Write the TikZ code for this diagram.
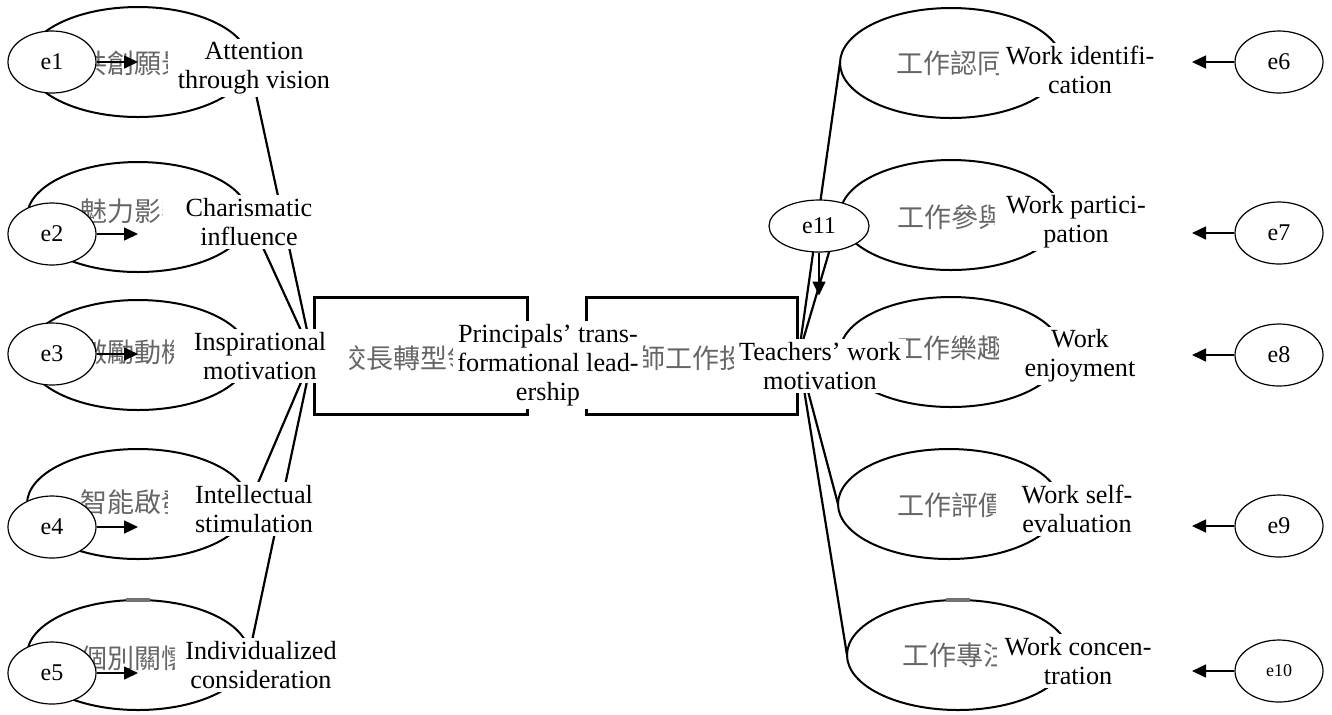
\documentclass[tikz,border=0pt]{standalone}
\usepackage{fontspec}
\setmainfont{Liberation Serif}
\newfontfamily\cjk{Noto Sans CJK TC}
\usetikzlibrary{shapes.geometric,arrows.meta}

\tikzset{
    latent/.style={ellipse,draw,line width=1pt,minimum width=111pt,
        minimum height=55pt,inner sep=0pt,outer sep=0pt},
    errvar/.style={ellipse,draw,fill=white,line width=0.6pt,minimum width=44pt,
        minimum height=31pt,inner sep=0pt,font=\fontsize{12}{12}\selectfont},
    factor/.style={rectangle,draw,line width=1.5pt,minimum height=58.5pt,inner sep=0pt},
    load/.style={line width=1.1pt},
    arr/.style={line width=0.8pt,-{Triangle[length=7pt,width=6.5pt]}},
    zh/.style={anchor=west,inner sep=0pt,text=black!60,
        font=\cjk\fontsize{13.5}{13.5}\selectfont},
    en/.style={fill=white,align=center,inner xsep=2pt,inner ysep=1.5pt,
        minimum width=86pt,font=\fontsize{13.1}{14.5}\selectfont}
}

\begin{document}
\begin{tikzpicture}[x=0.5pt,y=-0.5pt]
    \useasboundingbox (0,0) rectangle (1332,714);
    % latent variables
    \foreach \i/\y in {1/62, 2/217, 3/355, 4/504, 5/655}
        \node[latent] (L\i) at (138,\y) {};
    \foreach \i/\x/\y in {1/951/63, 2/951/215, 3/951/352, 4/949/504, 5/958/655}
        \node[latent] (R\i) at (\x,\y) {};
    % scan marks on the two bottom ellipses
    \draw[black!55,line width=2pt] ([xshift=-6pt]L5.north) -- ([xshift=6pt]L5.north);
    \draw[black!55,line width=2pt] ([xshift=-6pt]R5.north) -- ([xshift=6pt]R5.north);
    \node[factor,minimum width=106.5pt] (lbox) at (420.5,355.5) {};
    \node[factor,minimum width=105.5pt] (rbox) at (691.5,355.5) {};
    \foreach \i in {1,...,5} {
        \draw[load] (lbox.west) -- (L\i.east);
        \draw[load] (rbox.east) -- (R\i.west);
    }
    % chinese labels
    \foreach \i/\y/\t in {1/63/共創願景, 2/211/魅力影響, 3/352/激勵動機,
        4/502/智能啟發, 5/658/個別關懷}
        \node[zh] (zl\i) at (80,\y) {\t};
    \foreach \i/\x/\y/\t in {1/896/63/工作認同, 2/897/217/工作參與,
        3/896/348/工作樂趣, 4/897/505/工作評價, 5/902/655/工作專注}
        \node[zh] (zr\i) at (\x,\y) {\t};
    \begin{scope}
        \clip (349,290) rectangle (527,420);
        \node[zh] (zlbox) at (339,358) {校長轉型領};
    \end{scope}
    \node[zh] (zrbox) at (638,358) {師工作投};
    % error terms
    \foreach \i/\y in {1/62, 2/234, 3/354, 4/527, 5/673} {
        \node[errvar] (e\i) at (52,\y) {e\i};
        \draw[arr] (e\i.east) -- (e\i.east -| L\i.center);
    }
    \coordinate (rtip) at (1192,0);
    \foreach \i/\y in {6/62, 7/233, 8/355, 9/526} {
        \node[errvar] (e\i) at (1279,\y) {e\i};
        \draw[arr] (e\i.west) -- (e\i.west -| rtip);
    }
    \node[errvar,font=\fontsize{9}{9}\selectfont] (e10) at (1279,671) {e10};
    \draw[arr] (e10.west) -- (e10.west -| rtip);
    \node[errvar,minimum width=50pt,minimum height=26pt] (e11) at (819,226) {e11};
    \draw[arr] (e11.south) -- (e11.south |- rbox.north);
    % english labels
    \node[en] (a1) at (254,68) {Attention\\through vision};
    \node[en] (a2) at (249,222) {Charismatic\\influence};
    \node[en] (a3) at (260,356) {Inspirational\\motivation};
    \node[en] (a4) at (254,509) {Intellectual\\stimulation};
    \node[en] (a5) at (261,665) {Individualized\\consideration};
    \node[en,minimum width=94pt] (ap) at (548,365) {Principals’ trans-\\formational lead-\\ership};
    \node[en] (at) at (820,366) {Teachers’ work\\motivation};
    \node[en,minimum width=81pt] (b1) at (1080,70) {Work identifi-\\cation};
    \node[en,minimum width=81pt] (b2) at (1076,222) {Work partici-\\pation};
    \node[en,minimum width=81pt] (b3) at (1080,356) {Work\\enjoyment};
    \node[en,minimum width=81pt] (b4) at (1077,509) {Work self-\\evaluation};
    \node[en,minimum width=81pt] (b5) at (1078,661) {Work concen-\\tration};
\end{tikzpicture}
\end{document}
